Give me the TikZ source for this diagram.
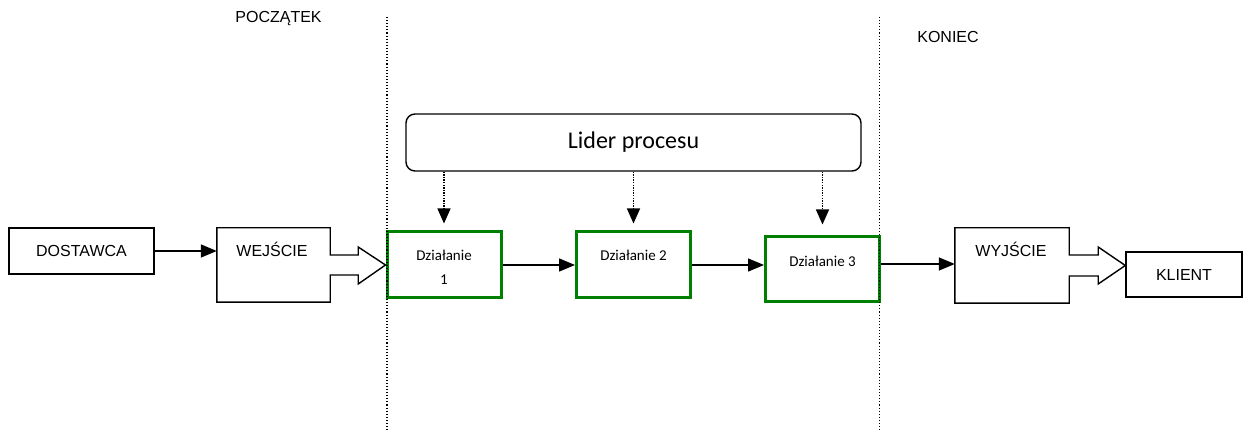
\documentclass[tikz,border=0pt]{standalone}
\usepackage{fontspec}
\setmainfont{Liberation Sans}
\newfontfamily\calibri{Carlito}
\usetikzlibrary{arrows.meta,calc}
\definecolor{actgreen}{RGB}{0,128,0}
\tikzset{
  plainbox/.style={draw=black, line width=1.4pt, rectangle, inner sep=0pt},
  actbox/.style={draw=actgreen, line width=3pt, rectangle, inner sep=0pt,
                 minimum width=114pt},
  ghost/.style={rectangle, inner sep=0pt},
  lbl/.style={inner sep=0pt, font=\fontsize{16}{19}\selectfont},
  actlbl/.style={inner sep=0pt, font=\calibri\fontsize{15}{24}\selectfont, align=center},
  outline/.style={draw=black, line width=1.4pt, line join=miter},
  flow/.style={draw=black, line width=1.5pt, -{Triangle[length=16pt,width=13pt]}},
  ctrl/.style={draw=black, line width=1.3pt, dash pattern=on 1.3pt off 1.3pt,
               -{Triangle[length=15pt,width=13pt]}},
  phase/.style={draw=black, line width=1.1pt, dash pattern=on 1.1pt off 2pt}
}
\begin{document}
\begin{tikzpicture}[x=1pt, y=-1pt]
  \useasboundingbox (0,0) rectangle (1243,430);

  % phase headings
  \node[lbl] (start) at (278.5,19) {POCZĄTEK};
  \node[lbl] (end) at (948,37) {KONIEC};

  % supplier and input
  \node[plainbox, minimum width=145pt, minimum height=46pt] (dost) at (81.5,251) {};
  \node[lbl] (dosttxt) at (dost.center) {DOSTAWCA};
  \node[ghost, minimum width=113pt, minimum height=74pt] (wej) at (273.5,265) {};
  \node[lbl] (wejtxt) at (272,249) {WEJŚCIE};

  % activities
  \node[actbox, minimum height=66pt] (d1) at (444,265) {};
  \node[actlbl] (d1txt) at (444,267) {Działanie\\1};
  \node[actbox, minimum height=66pt] (d2) at (633.5,265) {};
  \node[actlbl] (d2txt) at (633.5,255) {Działanie 2};
  \node[actbox, minimum height=65pt] (d3) at (822.5,269.5) {};
  \node[actlbl] (d3txt) at (822.5,261) {Działanie 3};

  % output and customer
  \node[ghost, minimum width=114pt, minimum height=75pt] (wyj) at (1012,265.5) {};
  \node[lbl] (wyjtxt) at (1011,249) {WYJŚCIE};
  \node[plainbox, minimum width=116pt, minimum height=45pt] (kl) at (1184,274.5) {};
  \node[lbl] (kltxt) at (kl.center) {KLIENT};

  % process leader
  \node[draw=black, line width=1.4pt, rounded corners=9pt, inner sep=0pt,
        minimum width=455pt, minimum height=57pt,
        font=\calibri\fontsize{24}{28}\selectfont] (lider) at (633.5,142.5) {Lider procesu};

  % input / output boxes with their broad arrows
  \draw[outline] (wej.north west) -- (wej.north east) -- ($(wej.east)+(0,-10)$)
    -- ++(28,0) -- ++(0,-8) -- (wej.east -| d1.west) -- ($(wej.east)+(28,19)$)
    -- ++(0,-9) -- ($(wej.east)+(0,10)$) -- (wej.south east) -- (wej.south west) -- cycle;
  \draw[outline] (wyj.north west) -- (wyj.north east) -- ($(wyj.east)+(0,-10.5)$)
    -- ++(29,0) -- ++(0,-8) -- (wyj.east -| kl.west) -- ($(wyj.east)+(29,18.5)$)
    -- ++(0,-8) -- ($(wyj.east)+(0,10.5)$) -- (wyj.south east) -- (wyj.south west) -- cycle;

  % main flow
  \draw[flow] (dost.east) -- (dost.east -| wej.west);
  \draw[flow] (d1.east) -- (d2.west);
  \draw[flow] (d2.east) -- (d2.east -| d3.west);
  \draw[flow] ($(d3.east |- wyj.east)+(0,-1.5)$) -- ($(wyj.west)+(0,-1.5)$);

  % control from the process leader
  \draw[ctrl] (lider.south -| d1.north) -- ($(d1.north)+(0,-7)$);
  \draw[ctrl] (lider.south -| d2.north) -- ($(d2.north)+(0,-7)$);
  \draw[ctrl] (lider.south -| d3.north) -- ($(d3.north)+(0,-11)$);

  % phase boundaries
  \coordinate (b1top) at (387,17);
  \coordinate (b1bot) at (387,430);
  \coordinate (b2top) at (879.5,17);
  \coordinate (b2bot) at (879.5,430);
  \draw[phase] (b1top) -- (b1bot);
  \draw[phase] (b2top) -- (b2bot);
\end{tikzpicture}
\end{document}
